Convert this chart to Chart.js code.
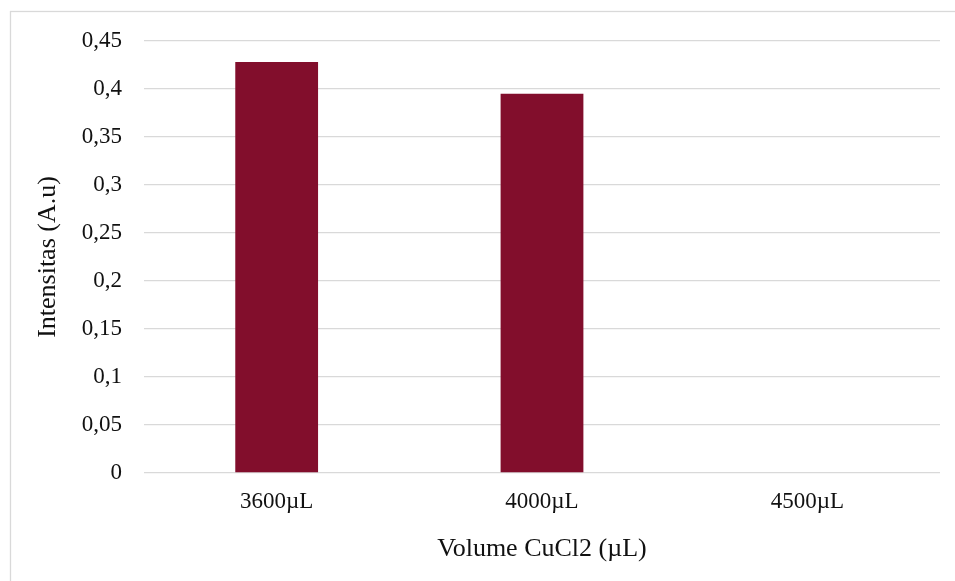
<!DOCTYPE html>
<html>
<head>
<meta charset="utf-8">
<script src="https://cdn.jsdelivr.net/npm/chart.js@4"></script>
<style>
    html, body { margin: 0; padding: 0; background: #fff; }
    #wrap { width: 955px; height: 581px; }
</style>
</head>
<body>
<div id="wrap"><canvas id="chart" width="955" height="581"></canvas></div>
<script>
// Data
const categories = ['3600\u00b5L', '4000\u00b5L', '4500\u00b5L'];
const intensity = [0.428, 0.395, 0];
const yMin = 0;
const yMax = 0.45;
const yStep = 0.05;

const fontFamily = '"Liberation Serif", "Times New Roman", serif';
const textColor = '#111';
const gridColor = '#d9d9d9';

// Outer frame of the chart box
const framePlugin = {
    id: 'frame',
    beforeDraw(chart) {
        const c = chart.ctx;
        c.save();
        c.fillStyle = '#fff';
        c.fillRect(0, 0, chart.width, chart.height);
        c.strokeStyle = gridColor;
        c.lineWidth = 1.3;
        c.strokeRect(10.5, 11.5, 1000, 1000);
        c.restore();
    }
};

const ctx = document.getElementById('chart').getContext('2d');
const chart = new Chart(ctx, {
    type: 'bar',
    data: {
        labels: categories,
        datasets: [{
            label: 'Intensitas',
            data: intensity,
            backgroundColor: '#820e2c',
            borderWidth: 0,
            barPercentage: 0.312,
            categoryPercentage: 1
        }]
    },
    options: {
        responsive: false,
        animation: false,
        layout: {
            padding: { top: 41, right: 15, bottom: 0, left: 0 }
        },
        plugins: {
            legend: { display: false },
            tooltip: { enabled: false }
        },
        scales: {
            x: {
                grid: { display: false, drawTicks: false },
                border: { display: false },
                ticks: {
                    color: textColor,
                    padding: 15,
                    font: { family: fontFamily, size: 23 }
                },
                title: {
                    display: true,
                    text: 'Volume CuCl2 (\u00b5L)',
                    color: textColor,
                    padding: { top: 0, bottom: 16 },
                    font: { family: fontFamily, size: 26 }
                },
                afterFit(scale) { scale.height = 108; }
            },
            y: {
                min: yMin,
                max: yMax,
                grid: { color: gridColor, lineWidth: 1.3, drawTicks: false },
                border: { display: false },
                ticks: {
                    stepSize: yStep,
                    color: textColor,
                    padding: 22,
                    font: { family: fontFamily, size: 23 },
                    callback: v => String(Math.round(v * 100) / 100).replace('.', ',')
                },
                title: {
                    display: true,
                    text: 'Intensitas (A.u)',
                    color: textColor,
                    padding: { top: 33, bottom: 0 },
                    font: { family: fontFamily, size: 26 }
                },
                afterFit(scale) { scale.width = 144; }
            }
        }
    },
    plugins: [framePlugin]
});
</script>
</body>
</html>
